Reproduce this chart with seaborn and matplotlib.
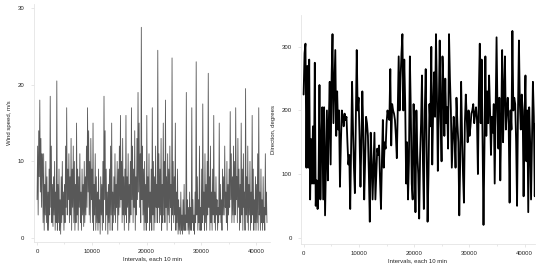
import numpy as np
import pandas as pd
import matplotlib
matplotlib.use("Agg")
import matplotlib.pyplot as plt
import seaborn as sns
from matplotlib.ticker import MultipleLocator

# Wind speed (m/s), every 100 intervals
wind_speed = [
    5, 12, 3, 14, 8, 18, 6, 13, 4, 11,
    9, 2, 11, 1, 7, 3, 10, 2, 8, 1,
    6, 1, 9, 3, 18.5, 4, 12, 2, 7, 1.5,
    8, 3, 10, 1, 6, 2, 20.5, 1, 7, 2,
    9, 1, 5, 0.5, 8, 2, 10, 3, 6, 1,
    7, 2, 12, 4, 17, 3, 9, 5, 11, 2,
    8, 3, 13, 1, 9, 4, 12, 2, 10, 1,
    7, 2, 15, 3, 9, 1, 8, 4, 11, 2,
    6, 1, 9, 3, 7, 1.5, 10, 2, 8, 3,
    12, 4, 17, 6, 14, 3, 10, 2, 13, 5,
    9, 2, 15, 1, 7, 3, 11, 1, 8, 2,
    6, 1, 9, 2, 5, 0.5, 8, 3, 7, 1,
    10, 2, 18.5, 5, 14, 1, 9, 3, 6, 0.5,
    7, 2, 9, 1, 12, 3, 15, 1, 6, 2,
    8, 3, 11, 2, 7, 4, 10, 1, 9, 3,
    12, 4, 16, 5, 10, 2, 13, 3, 8, 1,
    9, 3, 16, 2, 8, 4, 11, 1, 7, 2,
    10, 3, 17, 5, 12, 2, 9, 4, 14, 1,
    8, 3, 13, 5, 19, 6, 15, 4, 11, 2,
    27.5, 5, 12, 3, 9, 1, 10, 2, 7, 1,
    16, 2, 8, 4, 11, 1, 6, 2, 9, 1,
    17, 3, 10, 1, 8, 2, 12, 4, 7, 2,
    24.5, 4, 11, 2, 9, 3, 13, 1, 7, 2,
    15, 3, 10, 2, 18, 4, 8, 1, 11, 3,
    9, 2, 12, 4, 7, 1, 23.5, 3, 10, 2,
    8, 3, 15, 1, 6, 2, 9, 0.5, 5, 1,
    4, 0.5, 6, 1, 3, 0.5, 5, 1, 7, 1,
    3, 1, 19, 2, 5, 1, 4, 0.5, 6, 1,
    4, 1, 17, 2, 5, 1, 3, 0.5, 6, 2,
    23, 3, 8, 1, 5, 2, 12, 1, 4, 1,
    9, 2, 17.5, 3, 6, 1, 11, 2, 7, 1,
    10, 3, 21.5, 4, 8, 1, 12, 2, 6, 1,
    9, 3, 16, 2, 6, 1, 8, 3, 5, 1,
    4, 2, 15, 3, 7, 2, 5, 1, 9, 3,
    8, 3, 12, 4, 6, 2, 10, 1, 7, 3,
    9, 4, 16.5, 5, 11, 2, 8, 3, 12, 2,
    10, 3, 17, 5, 8, 2, 13, 4, 9, 1,
    7, 2, 15, 3, 9, 1, 11, 4, 6, 1,
    19.5, 3, 8, 2, 12, 1, 7, 3, 10, 1,
    6, 2, 16, 3, 9, 1, 5, 2, 8, 1,
    7, 2, 11, 1, 17, 3, 6, 1, 9, 2,
    5, 1, 8, 2, 4, 1, 11, 3, 6, 2,
]

# Wind direction (degrees), coarser sampling
direction = [
    225, 290, 305, 110, 270, 110, 280, 60, 155, 85,
    175, 85, 275, 50, 90, 45, 85, 240, 60, 150,
    205, 60, 205, 35, 120, 200, 90, 180, 245, 115,
    250, 320, 180, 240, 295, 160,
    230, 170, 200, 80, 150, 200, 190, 175, 195, 185,
    190, 150, 115, 130, 45, 150, 245, 170, 110, 70,
    180, 295, 200, 220, 160, 80, 150, 230, 170, 60,
    120, 190, 180, 160, 100, 25, 165, 120, 60, 110,
    165, 60, 100, 140, 130, 145, 90, 45, 120, 185,
    110, 150, 140, 180, 200, 190, 185, 265, 145, 210,
    200, 195, 185, 160, 125, 200, 285, 200, 250, 290,
    320, 200, 280, 210, 85, 150, 60, 120, 285,
    200, 85, 60, 210, 150, 40, 200, 130, 100, 30,
    130, 180, 255, 120, 45, 200, 265, 150, 25, 100,
    210, 175, 300, 115, 200, 260, 190, 320, 230, 105,
    200, 310, 190, 120, 285, 240, 160,
    250, 180, 205, 140, 320, 250, 200, 110, 150, 190,
    160, 110, 220, 180, 150, 35, 120, 245, 160, 100,
    55, 180, 225, 190, 150, 200, 160, 175, 195, 200,
    210, 180, 195, 205, 185, 100, 230, 305, 180, 280,
    150, 20, 140, 285, 160,
    230, 180, 255, 200, 130, 190, 165, 210, 85, 200,
    315, 200, 140, 220, 90, 180, 295, 150, 230, 285,
    170, 200,
    220, 180, 55, 200, 170, 325, 200, 220, 210, 150,
    50, 200, 310, 210, 170, 225, 200, 65, 190, 255,
    120, 200, 40, 205, 150, 60, 150, 245, 190, 65, 180,
]

n_intervals = 42000

ws_df = pd.DataFrame({
    "t": np.linspace(0, n_intervals, len(wind_speed)),
    "speed": wind_speed,
})
dir_df = pd.DataFrame({
    "t": np.linspace(0, n_intervals, len(direction)),
    "dir": direction,
})

sns.set_style("white")
plt.rcParams["font.family"] = ["Liberation Sans", "DejaVu Sans"]

fig = plt.figure(figsize=(5.5, 2.69), dpi=100)
ax1 = fig.add_axes([0.0624, 0.101, 0.428, 0.883])
ax2 = fig.add_axes([0.548, 0.093, 0.424, 0.851])

# left: wind speed, dense thin trace
sns.lineplot(data=ws_df, x="t", y="speed", ax=ax1, color="#111111",
             linewidth=0.6, alpha=0.7, estimator=None, sort=False)
ax1.set_xlim(-500, 42500)
ax1.set_ylim(-0.5, 30.5)
ax1.set_yticks([0, 10, 20, 30])
ax1.set_ylabel("Wind speed, m/s")

# right: direction
sns.lineplot(data=dir_df, x="t", y="dir", ax=ax2, color="black",
             linewidth=1.3, estimator=None, sort=False)
ax2.set_xlim(-400, 41800)
ax2.set_ylim(-10, 350)
ax2.set_yticks([0, 100, 200, 300])
ax2.set_ylabel("Direction, degrees")

for ax in (ax1, ax2):
    ax.set_xticks([0, 10000, 20000, 30000, 40000])
    ax.xaxis.set_minor_locator(MultipleLocator(5000))
    ax.set_xlabel("Intervals, each 10 min", fontsize=4.3, labelpad=1.5)
    ax.yaxis.label.set_fontsize(4.3)
    ax.yaxis.labelpad = 4
    ax.tick_params(axis="both", which="major", labelsize=4.3, length=2,
                   width=0.5, color="#dddddd", pad=5, labelcolor="#222222",
                   bottom=True, left=True)
    ax.tick_params(axis="x", which="minor", length=1.5, width=0.5,
                   color="#dddddd", bottom=True)
    ax.tick_params(axis="x", pad=3)
    for side in ("top", "right"):
        ax.spines[side].set_visible(False)
    for side in ("left", "bottom"):
        ax.spines[side].set_color("#e4e4e4")
        ax.spines[side].set_linewidth(0.6)

fig.savefig("out.png", dpi=100)
